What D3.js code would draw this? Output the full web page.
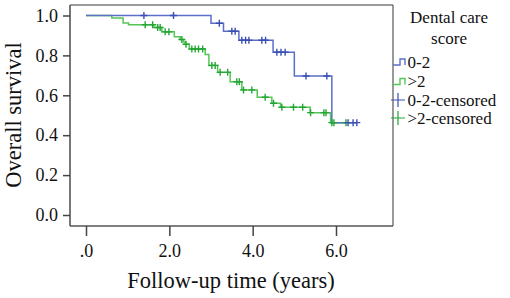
<!DOCTYPE html>
<html>
<head>
<meta charset="utf-8">
<script src="https://cdn.jsdelivr.net/npm/d3@7"></script>
<style>
body { margin: 0; background: #fff; }
text { font-family: "Liberation Serif", "Times New Roman", serif; }
</style>
</head>
<body>
<script>
// donnees (temps en annees, survie apres chaque deces)
var blueTimes = [3.0, 3.3, 3.67, 4.49, 5.0, 5.9];
var blueSurv = [0.961, 0.921, 0.876, 0.816, 0.697, 0.463];
var blueCensor = [1.39, 2.1, 3.2, 3.5, 3.58, 3.74, 3.83, 3.91, 4.22, 4.31, 4.58, 4.68, 4.78, 5.28, 5.78, 6.29, 6.41, 6.5];
var blueEnd = 6.5;

var greenTimes = [0.62, 0.89, 1.02, 1.62, 1.82, 2.12, 2.26, 2.34, 2.38, 2.48, 2.86, 2.95, 3.16, 3.46, 3.74, 4.11, 4.46, 4.67, 5.38, 5.87];
var greenSurv = [0.988, 0.962, 0.954, 0.94, 0.918, 0.893, 0.88, 0.867, 0.856, 0.832, 0.805, 0.75, 0.715, 0.668, 0.627, 0.59, 0.56, 0.54, 0.513, 0.463];
var greenCensor = [1.42, 1.6, 1.72, 1.78, 1.9, 1.99, 2.3, 2.4, 2.54, 2.62, 2.7, 2.8, 3.02, 3.1, 3.22, 3.4, 3.62, 3.68, 3.78, 3.98, 4.3, 4.5, 4.7, 4.98, 5.2, 5.39, 5.71, 5.76, 5.9, 5.95, 6.24];
var greenEnd = 6.24;

var yTicks = [0, 0.2, 0.4, 0.6, 0.8, 1.0];
var xTicks = [0, 2, 4, 6];
var legendLabels = ["0-2", ">2", "0-2-censored", ">2-censored"];

var larg = 510;
var haut = 298;

var blueLine = "#5b6fc8", blueMark = "#3b4fb3";
var greenLine = "#55c655", greenMark = "#24a535";

var svg = d3.select("body")
	.append("svg")
	.attr("width", larg)
	.attr("height", haut);

var xScale = d3.scaleLinear().domain([0, 6]).range([86, 336]);
var yScale = d3.scaleLinear().domain([0, 1]).range([215, 15.5]);

// cadre
svg.append("line").attr("x1", 70).attr("x2", 393).attr("y1", 5).attr("y2", 5)
	.attr("stroke", "#7a7a7a").attr("stroke-width", 1.6);
svg.append("line").attr("x1", 393).attr("x2", 393).attr("y1", 5).attr("y2", 226)
	.attr("stroke", "#555").attr("stroke-width", 1.2);
svg.append("line").attr("x1", 70).attr("x2", 70).attr("y1", 5).attr("y2", 226)
	.attr("stroke", "#555").attr("stroke-width", 1.6);
svg.append("line").attr("x1", 70).attr("x2", 393).attr("y1", 226).attr("y2", 226)
	.attr("stroke", "#555").attr("stroke-width", 1.6);

// axes
var yAxis = d3.axisLeft(yScale)
	.tickValues(yTicks)
	.tickSize(7)
	.tickPadding(5)
	.tickFormat(d3.format(".1f"));
var gy = svg.append("g").attr("transform", "translate(70,0)").call(yAxis);
gy.select(".domain").remove();
gy.selectAll("line").attr("stroke", "#444").attr("stroke-width", 1.5);
gy.selectAll("text").attr("font-size", "18px").attr("fill", "#111")
	.style("font-family", "'Liberation Serif', serif");

var xAxis = d3.axisBottom(xScale)
	.tickValues(xTicks)
	.tickSize(10)
	.tickPadding(8)
	.tickFormat(function(d) { return d === 0 ? ".0" : d3.format(".1f")(d); });
var gx = svg.append("g").attr("transform", "translate(0,226)").call(xAxis);
gx.select(".domain").remove();
gx.selectAll("line").attr("stroke", "#444").attr("stroke-width", 1.5);
gx.selectAll("text").attr("font-size", "18px").attr("fill", "#111")
	.style("font-family", "'Liberation Serif', serif");

// titres
svg.append("text")
	.attr("x", 231)
	.attr("y", 288)
	.attr("text-anchor", "middle")
	.attr("font-size", "22.5px")
	.attr("fill", "#111")
	.text("Follow-up time (years)");

svg.append("text")
	.attr("transform", "translate(21,115) rotate(-90)")
	.attr("text-anchor", "middle")
	.attr("font-size", "22.5px")
	.attr("fill", "#111")
	.text("Overall survival");

// courbes de Kaplan-Meier
function stepPoints(times, surv, end) {
	var pts = [[0, 1]];
	for (var i = 0; i < times.length; i++) pts.push([times[i], surv[i]]);
	pts.push([end, surv[surv.length - 1]]);
	return pts;
}
function survAt(times, surv, t) {
	var s = 1;
	for (var i = 0; i < times.length; i++) if (times[i] <= t) s = surv[i];
	return s;
}

var line = d3.line()
	.x(function(d) { return xScale(d[0]); })
	.y(function(d) { return yScale(d[1]); })
	.curve(d3.curveStepAfter);

var groups = [
	{ times: blueTimes, surv: blueSurv, censor: blueCensor, end: blueEnd, lc: blueLine, mc: blueMark },
	{ times: greenTimes, surv: greenSurv, censor: greenCensor, end: greenEnd, lc: greenLine, mc: greenMark }
];

// vert d'abord, bleu par-dessus
groups.slice().reverse().forEach(function(g) {
	svg.append("path")
		.datum(stepPoints(g.times, g.surv, g.end))
		.attr("d", line)
		.attr("fill", "none")
		.attr("stroke", g.lc)
		.attr("stroke-width", 1.5);
});

groups.slice().reverse().forEach(function(g) {
	var marks = svg.append("g");
	marks.selectAll("path")
		.data(g.censor)
		.enter()
		.append("path")
		.attr("d", function(t) {
			var cx = xScale(t), cy = yScale(survAt(g.times, g.surv, t));
			return "M" + (cx - 3.5) + "," + cy + "H" + (cx + 3.5) +
				"M" + cx + "," + (cy - 3.5) + "V" + (cy + 3.5);
		})
		.attr("stroke", g.mc)
		.attr("stroke-width", 1.4)
		.attr("fill", "none");
});

// legende
svg.append("text").attr("x", 449).attr("y", 23).attr("text-anchor", "middle")
	.attr("font-size", "17px").attr("fill", "#111").text("Dental care");
svg.append("text").attr("x", 449).attr("y", 44).attr("text-anchor", "middle")
	.attr("font-size", "17px").attr("fill", "#111").text("score");

var legY = [62, 81.5, 100, 118];
var legCol = [blueLine, greenLine, blueMark, greenMark];
legendLabels.forEach(function(lab, i) {
	var y = legY[i];
	if (i < 2) {
		svg.append("path")
			.attr("d", "M393," + (y + 3) + "H400V" + (y - 3) + "H405V" + (y + 3))
			.attr("fill", "none").attr("stroke", legCol[i]).attr("stroke-width", 1.4);
	} else {
		svg.append("path")
			.attr("d", "M391," + y + "H405M398," + (y - 7) + "V" + (y + 7))
			.attr("fill", "none").attr("stroke", legCol[i]).attr("stroke-width", 1.2);
	}
	svg.append("text")
		.attr("x", 407.5)
		.attr("y", y + 5.5)
		.attr("font-size", "17px")
		.attr("fill", "#111")
		.text(lab);
});
</script>
</body>
</html>
